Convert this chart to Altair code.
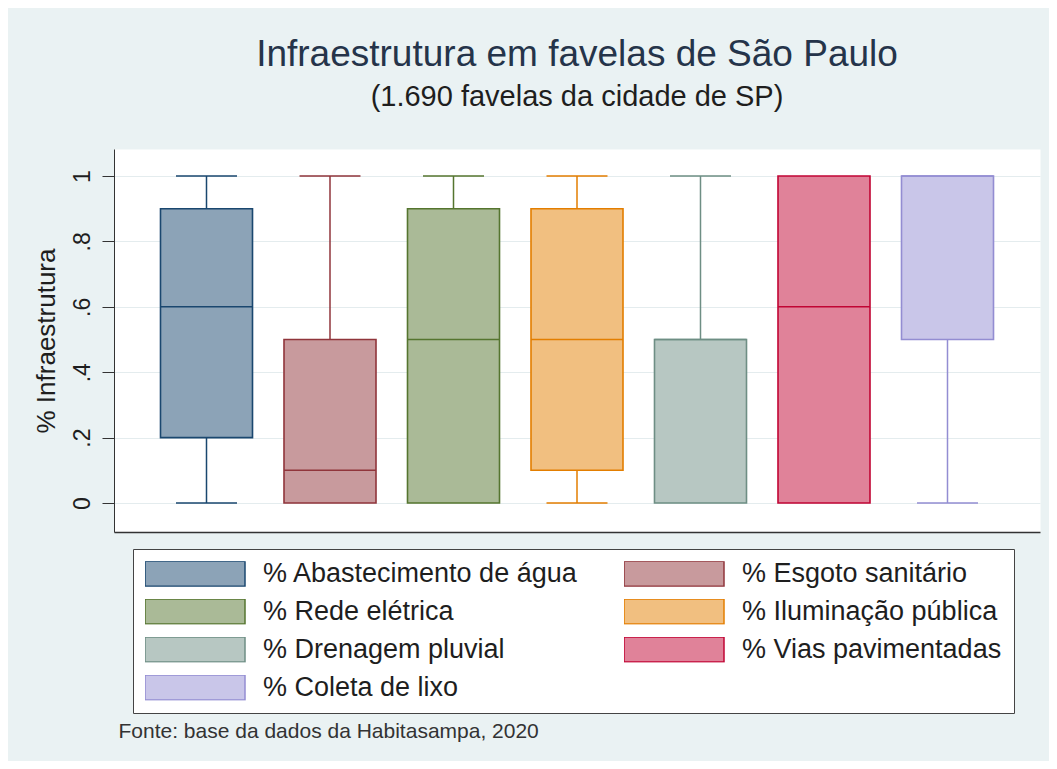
import altair as alt
import pandas as pd

# ---- data ----
categories = [
    "% Abastecimento de água",
    "% Esgoto sanitário",
    "% Rede elétrica",
    "% Iluminação pública",
    "% Drenagem pluvial",
    "% Vias pavimentadas",
    "% Coleta de lixo",
]
lower_adjacent = [0.0, 0.0, 0.0, 0.0, 0.0, 0.0, 0.0]
q1 = [0.2, 0.0, 0.0, 0.1, 0.0, 0.0, 0.5]
median = [0.6, 0.1, 0.5, 0.5, 0.5, 0.6, 1.0]
q3 = [0.9, 0.5, 0.9, 0.9, 0.5, 1.0, 1.0]
upper_adjacent = [1.0, 1.0, 1.0, 1.0, 1.0, 1.0, 1.0]

tick_values = [0, 0.2, 0.4, 0.6, 0.8, 1]

# ---- styles ----
stroke_colors = ["#1a476f", "#90353b", "#55752f", "#e37e00", "#6e8e84", "#c10534", "#938dd2"]
fill_colors = ["#8ca3b7", "#c89a9d", "#aaba97", "#f1bf80", "#b7c7c2", "#e08299", "#c9c6e9"]
FONT = "Liberation Sans"
TEXT = "#1e1e1e"

df = pd.DataFrame({
    "cat": categories,
    "lo": lower_adjacent,
    "q1": q1,
    "med": median,
    "q3": q3,
    "hi": upper_adjacent,
})

yscale = alt.Scale(domain=[-0.0887, 1.0826], nice=False, zero=False)
yaxis = alt.Axis(
    title="% Infraestrutura",
    values=tick_values,
    labelExpr="datum.value == 0 ? '0' : datum.value == 1 ? '1' : replace(format(datum.value, '.1f'), '0.', '.')",
    labelAngle=270,
    labelFontSize=23,
    labelFont=FONT,
    labelColor=TEXT,
    labelPadding=8,
    tickSize=12,
    tickColor="#333333",
    tickWidth=1,
    domainColor="#333333",
    domainWidth=1,
    grid=True,
    gridColor="#e4ecee",
    gridWidth=1,
    titleFontSize=26,
    titleFont=FONT,
    titleFontWeight="normal",
    titleColor=TEXT,
    titlePadding=12,
)
xscale = alt.Scale(domain=categories, paddingInner=0.255, paddingOuter=0.3765)
xaxis = alt.Axis(
    labels=False,
    ticks=False,
    grid=False,
    domainColor="#333333",
    domainWidth=1.5,
    title="Fonte: base da dados da Habitasampa, 2020",
    titleFont=FONT,
    titleFontSize=21,
    titleFontWeight="normal",
    titleColor="#333333",
    titleAnchor="start",
    titleAlign="left",
    titleBaseline="middle",
    titleX=4,
    titleY=199,
)

legend = alt.Legend(
    title=None,
    orient="none",
    legendX=19,
    legendY=400,
    columns=2,
    direction="horizontal",
    columnPadding=45,
    rowPadding=10,
    padding=12,
    clipHeight=25,
    fillColor="white",
    strokeColor="#444444",
    symbolType="M-2,-0.5H2V0.5H-2Z",
    symbolSize=2500,
    symbolOffset=24,
    symbolStrokeWidth=1.5,
    symbolOpacity=1,
    labelOffset=42,
    labelFont=FONT,
    labelFontSize=27,
    labelColor=TEXT,
    labelLimit=600,
)

x_enc = alt.X("cat:N", scale=xscale, axis=xaxis, sort=categories)
stroke_enc = alt.Stroke("cat:N", scale=alt.Scale(domain=categories, range=stroke_colors), legend=legend)
fill_enc = alt.Fill("cat:N", scale=alt.Scale(domain=categories, range=fill_colors), legend=legend)

base = alt.Chart(df)

whisker = base.mark_rule(strokeWidth=1.5).encode(
    x=x_enc,
    y=alt.Y("lo:Q", scale=yscale, axis=yaxis),
    y2="hi:Q",
    stroke=stroke_enc,
)

box = base.mark_bar(strokeWidth=1.6, opacity=1).encode(
    x=x_enc,
    y=alt.Y("q1:Q", scale=yscale, axis=yaxis),
    y2="q3:Q",
    fill=fill_enc,
    stroke=stroke_enc,
)

med_line = base.mark_bar(strokeWidth=1.5, fill="transparent").encode(
    x=x_enc,
    y=alt.Y("med:Q", scale=yscale, axis=yaxis),
    y2="med:Q",
    stroke=stroke_enc,
)

cap_top = base.transform_filter("datum.hi > datum.q3").mark_bar(
    width=61, strokeWidth=1.5, fill="transparent"
).encode(
    x=x_enc,
    y=alt.Y("hi:Q", scale=yscale, axis=yaxis),
    y2="hi:Q",
    stroke=stroke_enc,
)

cap_bottom = base.transform_filter("datum.lo < datum.q1").mark_bar(
    width=61, strokeWidth=1.5, fill="transparent"
).encode(
    x=x_enc,
    y=alt.Y("lo:Q", scale=yscale, axis=yaxis),
    y2="lo:Q",
    stroke=stroke_enc,
)

chart = alt.layer(whisker, box, med_line, cap_top, cap_bottom).properties(
    width=926,
    height=383,
    autosize=alt.AutoSizeParams(type="none"),
    padding={"left": 106, "top": 141, "right": 9, "bottom": 229},
    background="#eaf2f3",
    title=alt.Title(
        "Infraestrutura em favelas de São Paulo",
        subtitle="(1.690 favelas da cidade de SP)",
        font=FONT,
        fontSize=37,
        fontWeight="normal",
        color="#25344a",
        subtitleFont=FONT,
        subtitleFontSize=29,
        subtitleColor="#1e1e1e",
        subtitlePadding=9,
        anchor="middle",
        frame="group",
        offset=36,
    ),
).configure_view(
    fill="white",
    stroke="transparent",
)

chart.save("out.html", embed_options={"renderer": "svg", "actions": False})
